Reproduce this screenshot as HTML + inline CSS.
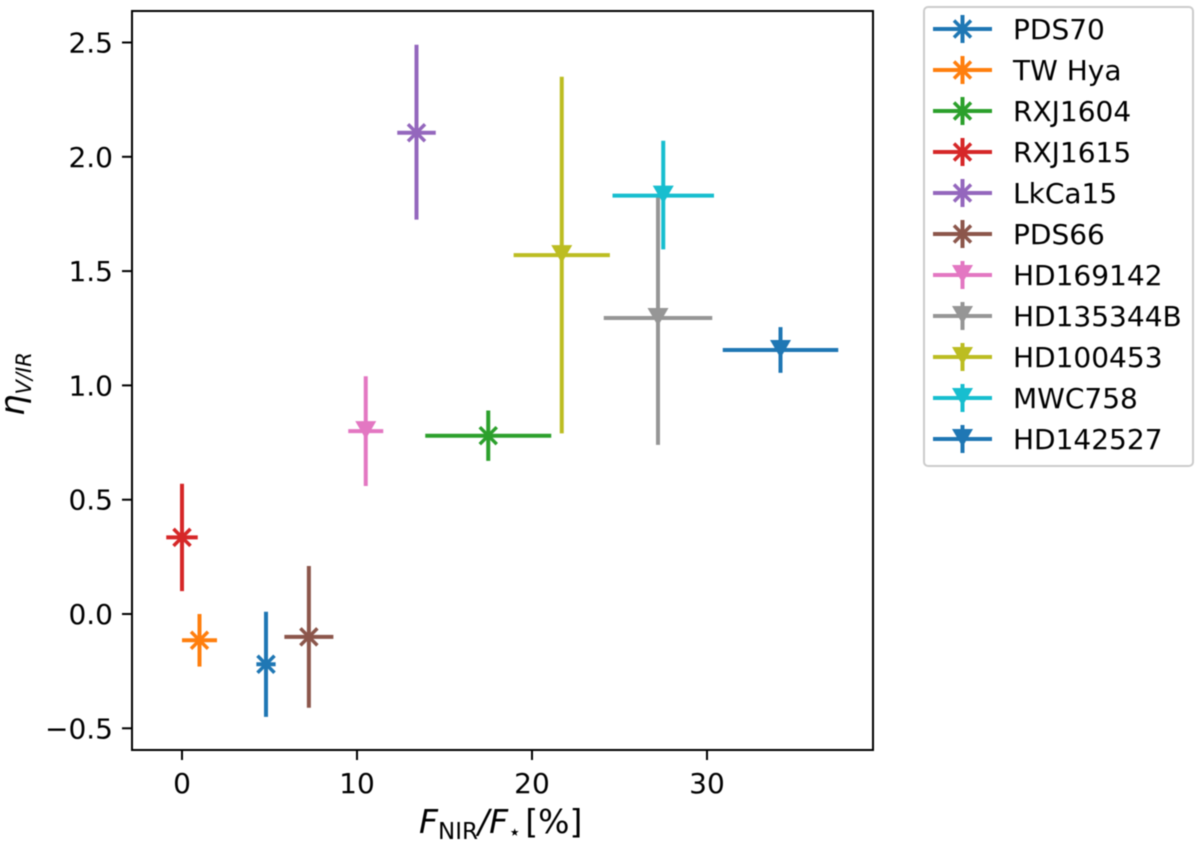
<!DOCTYPE html>
<html lang="en">
<head>
<meta charset="utf-8">
<title>Near-infrared excess scatter chart</title>
<style>
html,body{margin:0;padding:0;background:#fff;width:1200px;height:843px;overflow:hidden}
svg{display:block;filter:blur(0.5px)}
text{font-family:"DejaVu Sans","Liberation Sans",sans-serif;fill:#000}
</style>
</head>
<body>
<svg id="chart" xmlns="http://www.w3.org/2000/svg" width="1200" height="843" viewBox="0 0 1200 843">
  <rect x="132" y="11" width="741" height="739" fill="#fff"/>
  <g id="marks"></g>
  <rect x="132" y="11" width="741" height="739" fill="none" stroke="#000" stroke-width="2"/>
  <g id="xticks"></g>
  <g id="yticks"></g>
  <text x="419" y="833" font-size="33"><tspan font-style="italic">F</tspan><tspan font-size="23" dy="6">NIR</tspan><tspan font-style="italic" dy="-6">/F</tspan><tspan font-size="21" dy="6">⋆</tspan><tspan dy="-6" dx="4">[%]</tspan></text>
  <text transform="translate(24,416) rotate(-90)" font-size="34"><tspan font-style="italic">η</tspan><tspan font-style="italic" font-size="21" dy="7">V/IR</tspan></text>
  <rect x="924" y="7" width="269" height="459" rx="4" ry="4" fill="#fff" stroke="#ccc" stroke-width="2"/>
  <g id="legend"></g>
</svg>
<script>
const categories = ["PDS70","TW Hya","RXJ1604","RXJ1615","LkCa15","PDS66","HD169142","HD135344B","HD100453","MWC758","HD142527"];
const markerKinds = ["x","x","x","x","x","x","v","v","v","v","v"];
const seriesColors = ["#1f77b4","#ff7f0e","#2ca02c","#d62728","#9467bd","#8c564b","#e377c2","#969696","#bcbd22","#17becf","#1f77b4"];
const xValues = [4.8,1.0,17.5,0.0,13.4,7.25,10.5,27.2,21.7,27.5,34.2];
const yValues = [-0.22,-0.115,0.78,0.335,2.105,-0.10,0.80,1.295,1.57,1.83,1.155];
const xErrors = [0.55,1.0,3.6,0.9,1.1,1.4,1.0,3.1,2.75,2.9,3.3];
const yErrLow = [0.23,0.115,0.11,0.235,0.38,0.31,0.24,0.555,0.78,0.235,0.10];
const yErrHigh = [0.23,0.115,0.11,0.235,0.385,0.31,0.24,0.535,0.78,0.24,0.10];
const xTickValues = [0,10,20,30];
const yTickValues = [-0.5,0,0.5,1,1.5,2,2.5];
const xTickLabels = ["0","10","20","30"];
const yTickLabels = ["\u22120.5","0.0","0.5","1.0","1.5","2.0","2.5"];

const NS = "http://www.w3.org/2000/svg";
function xScale(v){ return 182 + v * 17.5; }
function yScale(v){ return 614 - v * 228.6; }

function line(parent, x1, y1, x2, y2, color, width){
  const el = document.createElementNS(NS, "line");
  el.setAttribute("x1", x1);
  el.setAttribute("y1", y1);
  el.setAttribute("x2", x2);
  el.setAttribute("y2", y2);
  el.setAttribute("stroke", color);
  el.setAttribute("stroke-width", width);
  parent.appendChild(el);
  return el;
}
function marker(parent, kind, cx, cy, color){
  if (kind === "x") {
    const r = 8.5;
    const a = line(parent, cx - r, cy - r, cx + r, cy + r, color, 3.5);
    
    
    const b = line(parent, cx - r, cy + r, cx + r, cy - r, color, 3.5);
    
    
  } else {
    const t = document.createElementNS(NS, "polygon");
    t.setAttribute("points", (cx - 10.5) + "," + (cy - 10) + " " + (cx + 10.5) + "," + (cy - 10) + " " + cx + "," + (cy + 8));
    t.setAttribute("fill", color);
    
    
    parent.appendChild(t);
  }
}

const marks = document.getElementById("marks");
categories.forEach(function(name, i){
  const g = document.createElementNS(NS, "g");
  
  
  const cx = xScale(xValues[i]);
  const cy = yScale(yValues[i]);
  const h = line(g, xScale(xValues[i] - xErrors[i]), cy, xScale(xValues[i] + xErrors[i]), cy, seriesColors[i], 4);
  
  
  const v = line(g, cx, yScale(yValues[i] + yErrHigh[i]), cx, yScale(yValues[i] - yErrLow[i]), seriesColors[i], 4);
  
  
  marker(g, markerKinds[i], cx, cy, seriesColors[i]);
  marks.appendChild(g);
});

const xt = document.getElementById("xticks");
xTickValues.forEach(function(val, i){
  const x = xScale(val);
  const t = line(xt, x, 750, x, 760, "#000", 2);
  
  
  const lab = document.createElementNS(NS, "text");
  lab.setAttribute("x", x);
  lab.setAttribute("y", 793);
  lab.setAttribute("text-anchor", "middle");
  lab.setAttribute("font-size", "28");
  
  
  lab.textContent = xTickLabels[i];
  xt.appendChild(lab);
});

const yt = document.getElementById("yticks");
yTickValues.forEach(function(val, i){
  const y = yScale(val);
  const t = line(yt, 122, y, 132, y, "#000", 2);
  
  
  const lab = document.createElementNS(NS, "text");
  lab.setAttribute("x", 113);
  lab.setAttribute("y", y + 10);
  lab.setAttribute("text-anchor", "end");
  lab.setAttribute("font-size", "28");
  
  
  lab.textContent = yTickLabels[i];
  yt.appendChild(lab);
});

const legend = document.getElementById("legend");
categories.forEach(function(name, i){
  const y = 29 + i * 41;
  const g = document.createElementNS(NS, "g");
  
  
  const h = line(g, 933, y, 992, y, seriesColors[i], 4);
  
  
  const v = line(g, 962.5, y - 14, 962.5, y + 14, seriesColors[i], 4);
  
  
  marker(g, markerKinds[i], 962.5, y, seriesColors[i]);
  const lab = document.createElementNS(NS, "text");
  lab.setAttribute("x", 1013);
  lab.setAttribute("y", y + 10);
  lab.setAttribute("font-size", "28");
  
  
  lab.textContent = name;
  g.appendChild(lab);
  legend.appendChild(g);
});
</script>
</body>
</html>
